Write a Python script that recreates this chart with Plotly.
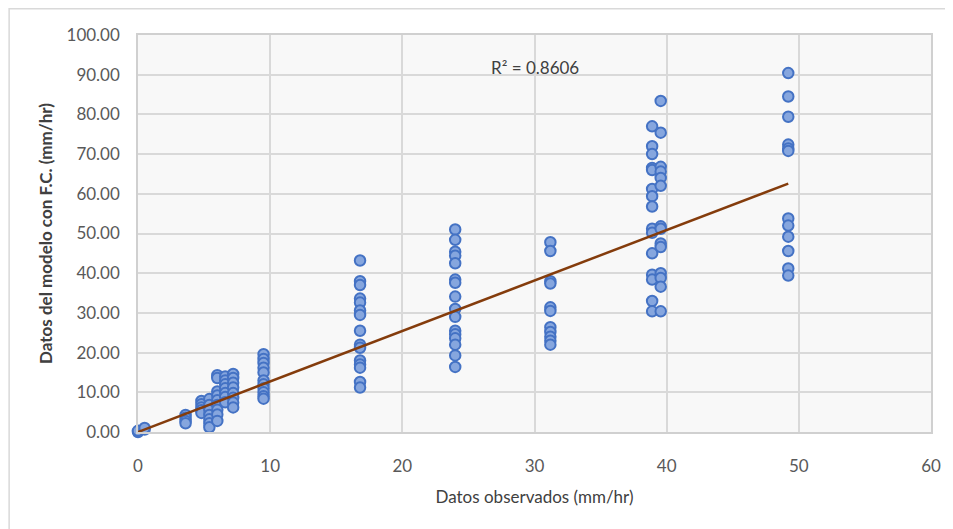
import plotly.graph_objects as go

# Observed values (x) and model values (y), grouped by observed value
obs_0_0 = [0.0, 0.0]
mod_0_0 = [0.0, 0.3]
obs_0_5 = [0.5, 0.5]
mod_0_5 = [0.6, 1.0]
obs_3_6 = [3.6] * 4
mod_3_6 = [4.3, 3.6, 2.8, 2.2]
obs_4_8 = [4.8] * 5
mod_4_8 = [7.8, 7.0, 6.2, 5.5, 4.8]
obs_5_4 = [5.4] * 7
mod_5_4 = [8.3, 6.8, 5.5, 4.3, 3.2, 2.2, 1.2]
obs_6_0 = [6.0] * 9
mod_6_0 = [14.3, 13.6, 10.2, 9.2, 8.0, 6.8, 5.6, 4.4, 2.8]
obs_6_6 = [6.6] * 7
mod_6_6 = [14.0, 13.0, 12.0, 11.0, 9.8, 8.8, 7.5]
obs_7_2 = [7.2] * 8
mod_7_2 = [14.6, 13.6, 12.4, 11.2, 9.8, 8.6, 7.4, 6.2]
obs_9_5 = [9.5] * 11
mod_9_5 = [19.6, 18.4, 17.4, 16.2, 15.0, 13.0, 12.0, 11.0, 10.0, 9.0, 8.4]
obs_16_8 = [16.8] * 15
mod_16_8 = [43.2, 38.0, 37.0, 33.6, 32.6, 30.6, 29.5, 25.5, 22.0, 21.2, 18.0, 17.0, 16.2, 12.6, 11.2]
obs_24_0 = [24.0] * 16
mod_24_0 = [51.0, 48.4, 45.4, 44.4, 42.5, 38.4, 37.6, 34.1, 31.0, 29.0, 25.5, 24.6, 23.6, 22.0, 19.3, 16.4]
obs_31_2 = [31.2] * 11
mod_31_2 = [47.8, 45.6, 38.0, 37.4, 31.4, 30.5, 26.4, 25.2, 24.0, 23.0, 22.0]
obs_38_9 = [38.9] * 15
mod_38_9 = [77.0, 72.0, 70.0, 66.5, 66.0, 61.2, 59.4, 56.8, 51.2, 50.2, 45.0, 39.6, 38.4, 33.0, 30.4]
obs_39_5 = [39.55] * 14
mod_39_5 = [83.4, 75.4, 66.8, 65.6, 64.0, 62.0, 51.8, 51.2, 47.5, 46.6, 40.0, 38.8, 36.6, 30.4]
obs_49_2 = [49.2] * 12
mod_49_2 = [90.4, 84.5, 79.4, 72.4, 71.4, 70.8, 53.8, 52.0, 49.2, 45.6, 41.2, 39.4]

# Linear trendline (Excel) and its R²
trend_slope = 1.272
trend_intercept = 0.0
trend_x = [0.0, 49.2]
r2_text = "R² = 0.8606"

x_ticks = [0, 10, 20, 30, 40, 50, 60]
y_ticks = [0, 10, 20, 30, 40, 50, 60, 70, 80, 90, 100]

obs = (obs_0_0 + obs_0_5 + obs_3_6 + obs_4_8 + obs_5_4 + obs_6_0 + obs_6_6 + obs_7_2 +
       obs_9_5 + obs_16_8 + obs_24_0 + obs_31_2 + obs_38_9 + obs_39_5 + obs_49_2)
mod = (mod_0_0 + mod_0_5 + mod_3_6 + mod_4_8 + mod_5_4 + mod_6_0 + mod_6_6 + mod_7_2 +
       mod_9_5 + mod_16_8 + mod_24_0 + mod_31_2 + mod_38_9 + mod_39_5 + mod_49_2)

trend_y = [trend_slope * x + trend_intercept for x in trend_x]

FONT = "Lato"
# page body has an 8px margin, so the figure is placed at (8, 8)
L, R, T, B = 130, 20, 27, 97
W, H = 945, 521
PW, PH = W - L - R, H - T - B

fig = go.Figure()
fig.add_trace(go.Scatter(
    x=obs, y=mod, mode="markers", cliponaxis=False,
    marker=dict(size=10.5, color="#86a6de", line=dict(color="#4472c4", width=2)),
    showlegend=False))
fig.add_trace(go.Scatter(
    x=trend_x, y=trend_y, mode="lines", cliponaxis=False,
    line=dict(color="#843c0c", width=2.5), showlegend=False))

fig.add_annotation(x=30.0, y=91.9, text=r2_text, showarrow=False,
                   font=dict(family=FONT, size=17, color="#404040"))

# outer chart frame (left and top edges visible)
fig.add_shape(type="rect", xref="paper", yref="paper",
              x0=(0.8 - L) / PW, x1=2, y0=-2, y1=(PH + T - 0.8) / PH,
              line=dict(color="#d9d9d9", width=1.5), fillcolor="rgba(0,0,0,0)", layer="below")

fig.update_layout(
    width=W, height=H,
    margin=dict(l=L, r=R, t=T, b=B),
    paper_bgcolor="white", plot_bgcolor="#f8f8f8",
    font=dict(family=FONT, color="#595959"),
    xaxis=dict(range=[0, 60], tickvals=x_ticks, showgrid=True, gridcolor="#d9d9d9",
               gridwidth=1.5, zeroline=False, showline=True, linecolor="#d0d0d0",
               linewidth=1.5, mirror=True, ticks="", ticklabelstandoff=18,
               tickfont=dict(size=17, color="#595959"),
               title=dict(text="Datos observados (mm/hr)", standoff=16,
                          font=dict(size=17, color="#404040"))),
    yaxis=dict(range=[0, 100], tickvals=y_ticks, tickformat=".2f", showgrid=True,
               gridcolor="#d9d9d9", gridwidth=1.5, zeroline=False, showline=True,
               linecolor="#d0d0d0", linewidth=1.5, mirror=True, ticks="",
               ticklabelstandoff=13, tickfont=dict(size=17, color="#595959"),
               title=dict(text="<b>Datos del modelo con F.C. (mm/hr)</b>", standoff=10,
                          font=dict(size=17, color="#404040"))),
)

fig.write_html("out.html")
